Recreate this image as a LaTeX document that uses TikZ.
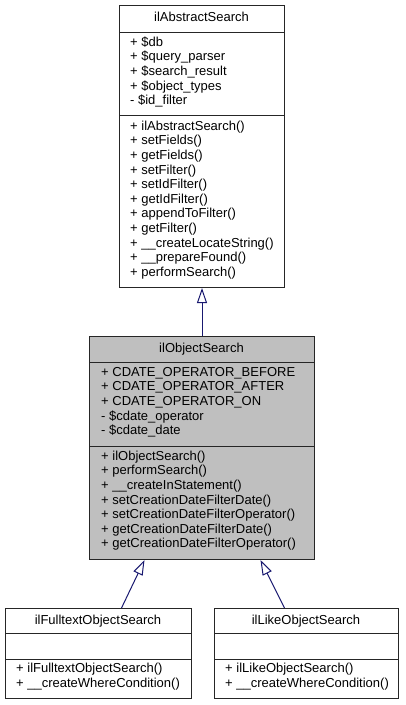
\documentclass[tikz,border=0pt]{standalone}
\usepackage{fontspec}
\setmainfont{Liberation Sans}
\usetikzlibrary{arrows.meta}
\definecolor{edgeblue}{HTML}{191970}
\definecolor{classgray}{HTML}{BFBFBF}
\tikzset{
  classbox/.style={draw=black!85, line width=1pt, anchor=north west, inner sep=0pt},
  sepline/.style={draw=black!85, line width=1pt},
  member/.style={anchor=west, inner sep=0pt, font=\fontsize{13}{14.5}\selectfont, text height=9pt, text depth=2.5pt},
  titletext/.style={anchor=center, inner sep=0pt, font=\fontsize{13}{14.5}\selectfont, text height=9pt, text depth=2.5pt},
  inherit/.style={draw=edgeblue, line width=1pt, -{Triangle[open, width=10pt, length=15pt, fill=white]}}
}
\begin{document}
\begin{tikzpicture}[x=1pt, y=-1pt]
\useasboundingbox (0,0) rectangle (405,705);

% ilAbstractSearch
\node[classbox, fill=white, minimum width=165pt, minimum height=282pt] (A) at (119,5) {};
\draw[sepline] (119,32) -- (284,32);
\draw[sepline] (119,115) -- (284,115);
\node[titletext] (At) at (201.5,18) {ilAbstractSearch};
\foreach \t [count=\i] in {+ \$db, + \$query\_parser, + \$search\_result, + \$object\_types, - \$id\_filter}
  \node[member] (Aa\i) at (130, {43 + (\i-1)*14.6}) {\t};
\foreach \t [count=\i] in {+ ilAbstractSearch(), + setFields(), + getFields(), + setFilter(), + setIdFilter(), + getIdFilter(), + appendToFilter(), + getFilter(), + \_\_createLocateString(), + \_\_prepareFound(), + performSearch()}
  \node[member] (Am\i) at (130, {127 + (\i-1)*14.6}) {\t};

% ilObjectSearch
\node[classbox, fill=classgray, minimum width=225pt, minimum height=223pt] (B) at (89,336) {};
\draw[sepline] (89,362) -- (314,362);
\draw[sepline] (89,446) -- (314,446);
\node[titletext] (Bt) at (201.5,349) {ilObjectSearch};
\foreach \t [count=\i] in {+ CDATE\_OPERATOR\_BEFORE, + CDATE\_OPERATOR\_AFTER, + CDATE\_OPERATOR\_ON, - \$cdate\_operator, - \$cdate\_date}
  \node[member] (Ba\i) at (101, {373 + (\i-1)*14.6}) {\t};
\foreach \t [count=\i] in {+ ilObjectSearch(), + performSearch(), + \_\_createInStatement(), + setCreationDateFilterDate(), + setCreationDateFilterOperator(), + getCreationDateFilterDate(), + getCreationDateFilterOperator()}
  \node[member] (Bm\i) at (101, {457 + (\i-1)*14.6}) {\t};

% ilFulltextObjectSearch
\node[classbox, fill=white, minimum width=186pt, minimum height=90pt] (C) at (5,608) {};
\draw[sepline] (5,633) -- (191,633);
\draw[sepline] (5,659) -- (191,659);
\node[titletext] (Ct) at (98,621) {ilFulltextObjectSearch};
\node[member] (Cm1) at (16,669) {+ ilFulltextObjectSearch()};
\node[member] (Cm2) at (16,684) {+ \_\_createWhereCondition()};

% ilLikeObjectSearch
\node[classbox, fill=white, minimum width=184pt, minimum height=90pt] (D) at (214,608) {};
\draw[sepline] (214,633) -- (398,633);
\draw[sepline] (214,659) -- (398,659);
\node[titletext] (Dt) at (306,621) {ilLikeObjectSearch};
\node[member] (Dm1) at (225,669) {+ ilLikeObjectSearch()};
\node[member] (Dm2) at (225,684) {+ \_\_createWhereCondition()};

% inheritance
\draw[inherit] (B.north) -- (A.south);
\draw[inherit] ([xshift=23pt]C.north) -- ([xshift=-57.5pt]B.south);
\draw[inherit] ([xshift=-22pt]D.north) -- ([xshift=58.5pt]B.south);
\end{tikzpicture}
\end{document}
